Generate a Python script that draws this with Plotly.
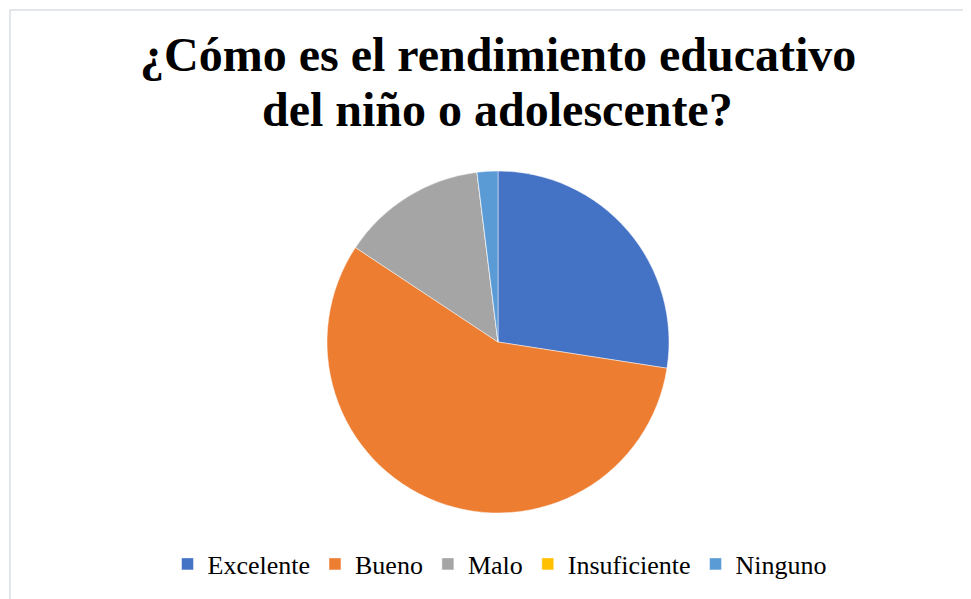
import plotly.graph_objects as go

categories = ["Excelente", "Bueno", "Malo", "Insuficiente", "Ninguno"]
values = [14, 29, 7, 0, 1]
colors = ["#4472C4", "#ED7D31", "#A5A5A5", "#FFC000", "#5B9BD5"]
title_lines = ["¿Cómo es el rendimiento educativo", "del niño o adolescente?"]

W, H = 971, 599
OFF = 8  # page body margin
cx, cy, r = 498 - OFF, 342 - OFF, 171
SERIF = "Times New Roman, Liberation Serif, serif"

fig = go.Figure(go.Pie(
    labels=categories, values=values, sort=False, direction="clockwise",
    rotation=0, textinfo="none", hoverinfo="label+value+percent",
    marker=dict(colors=colors, line=dict(color="rgba(255,255,255,0.6)", width=0.8)),
    domain=dict(x=[(cx - r) / W, (cx + r) / W], y=[1 - (cy + r) / H, 1 - (cy - r) / H]),
))

title_centers = [54 - OFF, 110 - OFF]
annotations = [
    dict(text="<b>" + t + "</b>", x=498 / W - OFF / W, y=1 - yc / H, xref="paper", yref="paper",
         xanchor="center", yanchor="middle", showarrow=False,
         font=dict(family=SERIF, size=48, color="black"))
    for t, yc in zip(title_lines, title_centers)
]

fig.update_layout(
    width=W, height=H, margin=dict(l=0, r=0, t=0, b=0),
    paper_bgcolor="white", plot_bgcolor="white",
    annotations=annotations,
    legend=dict(orientation="h", x=(500 - OFF) / W, xanchor="center", y=1 - (564 - OFF) / H,
                yanchor="middle",
                font=dict(family=SERIF, size=26, color="black"),
                itemwidth=30, tracegroupgap=0),
    shapes=[dict(type="rect", xref="paper", yref="paper",
                 x0=(10 - OFF) / W, x1=1.02, y0=-0.02, y1=1 - (10 - OFF) / H,
                 line=dict(color="#DADFE6", width=1.5), fillcolor="rgba(0,0,0,0)")],
)

fig.write_html("out.html")
